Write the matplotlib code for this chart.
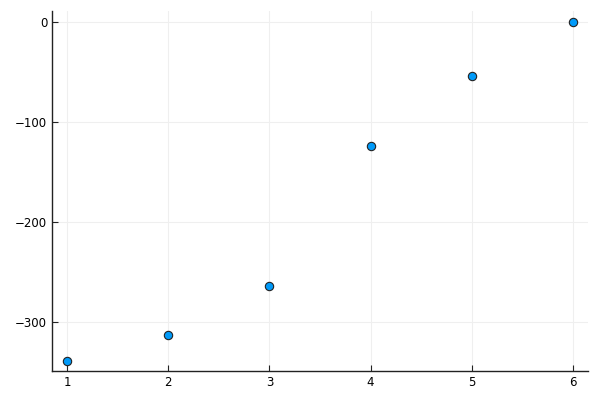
import numpy as np
import matplotlib.pyplot as plt

# data
x = [1, 2, 3, 4, 5, 6]
y = [-339, -313, -264, -124, -54, 0]
xticks = [1, 2, 3, 4, 5, 6]
yticks = [0, -100, -200, -300]

fig = plt.figure(figsize=(6, 4), dpi=100)
ax = fig.add_axes([52/600, 29/400, 536/600, 360/400])

ax.scatter(x, y, s=36, color='#009af9', edgecolors='#222222', linewidths=0.8, zorder=3)

ax.set_xlim(0.852, 6.148)
ax.set_ylim(-348.5, 10.5)
ax.set_xticks(xticks)
ax.set_yticks(yticks)
ax.set_yticklabels(['0', '\u2212100', '\u2212200', '\u2212300'])

ax.grid(True, color='#efefef', linewidth=0.8)
ax.set_axisbelow(True)
for side in ['top', 'right']:
    ax.spines[side].set_visible(False)
for side in ['left', 'bottom']:
    ax.spines[side].set_linewidth(1.0)
    ax.spines[side].set_color('#222222')
ax.tick_params(direction='in', length=4, width=0.8, color='#222222', labelsize=8.5, labelcolor='black')

fig.savefig('out.png', dpi=100)
